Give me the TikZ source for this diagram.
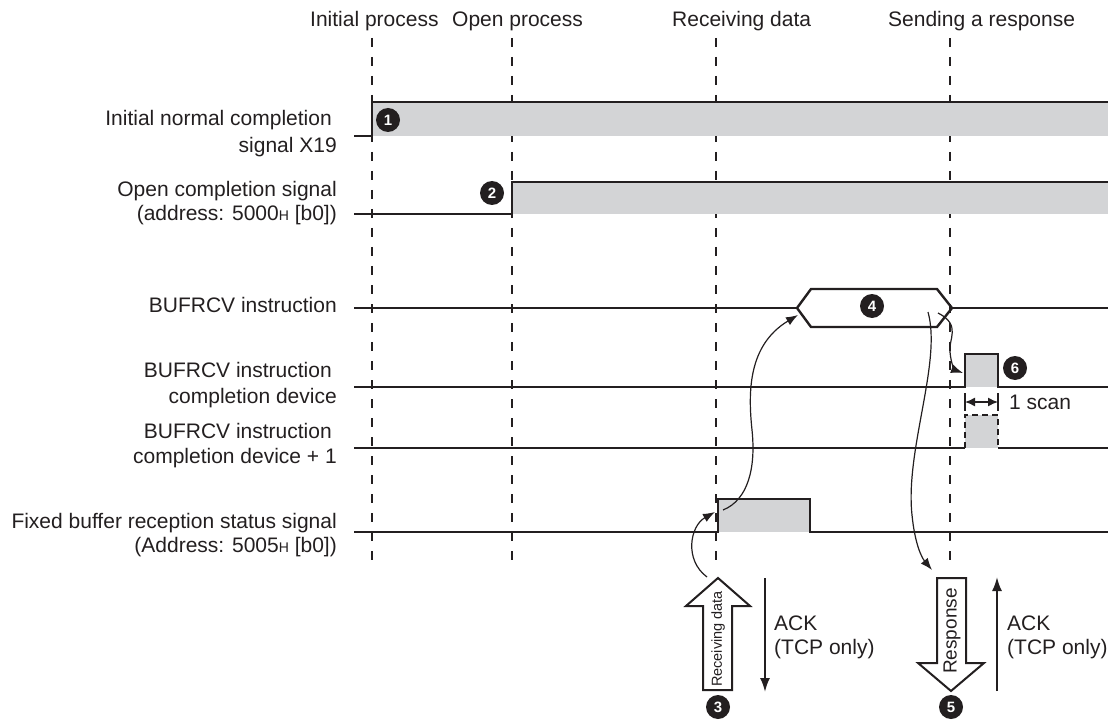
\documentclass[tikz,border=0pt]{standalone}
\usepackage{fontspec}
\setmainfont{Liberation Sans}
\usetikzlibrary{arrows.meta}
\definecolor{ink}{RGB}{35,31,32}
\definecolor{pulsefill}{RGB}{211,212,214}
\newcommand{\smallH}{{\fontsize{14}{14}\selectfont H}}
\begin{document}
\begin{tikzpicture}[x=1pt,y=-1pt,
  sigline/.style={line width=2.4pt, draw=ink, line join=miter},
  guide/.style={line width=1.1pt, draw=ink, dash pattern=on 9pt off 10pt},
  num/.style={circle, fill=ink, text=white, font=\fontsize{15}{15}\selectfont\bfseries, inner sep=0pt, minimum size=24pt},
  lbl/.style={font=\fontsize{21}{21}\selectfont, text=ink, inner sep=0pt},
  curvearrow/.style={line width=1.2pt, draw=ink, -{Latex[length=12pt,width=9pt]}},
  ackarrow/.style={line width=2pt, draw=ink, -{Latex[length=14pt,width=10pt]}},
  bigarrow/.style={line width=2pt, draw=ink, fill=white, line join=miter}]
\useasboundingbox (0,0) rectangle (1114,722);

% guide lines
\foreach \gx in {372,512,716,950}{\draw[guide] (\gx,38) -- (\gx,570);}

% top labels
\node[lbl, anchor=base west] (tInit) at (310,27) {Initial process};
\node[lbl, anchor=base west] (tOpen) at (452,27) {Open process};
\node[lbl, anchor=base west] (tRecv) at (672,27) {Receiving data};
\node[lbl, anchor=base west] (tSend) at (888,27) {Sending a response};

% left labels
\node[lbl, anchor=base east] (l1a) at (332,126) {Initial normal completion};
\node[lbl, anchor=base east] (l1b) at (337,153) {signal X19};
\node[lbl, anchor=base east] (l2a) at (337,197) {Open completion signal};
\node[lbl, anchor=base east] (l2b) at (337,221) {(address: 5000\smallH\ [b0])};
\node[lbl, anchor=base east] (l3) at (337,312) {BUFRCV instruction};
\node[lbl, anchor=base east] (l4a) at (332,377) {BUFRCV instruction};
\node[lbl, anchor=base east] (l4b) at (337,403) {completion device};
\node[lbl, anchor=base east] (l5a) at (332,438) {BUFRCV instruction};
\node[lbl, anchor=base east] (l5b) at (337,463) {completion device + 1};
\node[lbl, anchor=base east] (l6a) at (337,528) {Fixed buffer reception status signal};
\node[lbl, anchor=base east] (l6b) at (337,552) {(Address: 5005\smallH\ [b0])};

% signal 1
\fill[pulsefill] (372,102) rectangle (1108,136);
\draw[sigline] (354,136) -- (372,136) -- (372,102) -- (1108,102);
% signal 2
\fill[pulsefill] (512,182) rectangle (1108,214);
\draw[sigline] (354,214) -- (512,214) -- (512,182) -- (1108,182);
% signal 3 (instruction)
\draw[sigline] (354,308) -- (797,308);
\draw[sigline] (797,308) -- (811,289) -- (937,289) -- (952,308) -- (937,327) -- (811,327) -- cycle;
\draw[sigline] (952,308) -- (1108,308);
% signal 4
\fill[pulsefill] (965,354) rectangle (998,387);
\draw[sigline] (354,387) -- (965,387) -- (965,354) -- (998,354) -- (998,387) -- (1108,387);
% signal 5
\fill[pulsefill] (965,415) rectangle (998,448);
\draw[sigline] (354,448) -- (965,448);
\draw[sigline] (998,448) -- (1108,448);
\draw[sigline, dash pattern=on 6pt off 4pt] (965,448) -- (965,415) -- (998,415) -- (998,448);
% signal 6
\fill[pulsefill] (718,499) rectangle (810,532);
\draw[sigline] (354,532) -- (718,532) -- (718,499) -- (810,499) -- (810,532) -- (1108,532);

% 1 scan
\coordinate (scanL) at (965,402);
\coordinate (scanR) at (998,402);
\draw[line width=1.8pt, draw=ink] (965,393) -- (965,411) (998,393) -- (998,411);
\draw[line width=1.4pt, draw=ink, {Latex[length=10pt,width=9pt]}-{Latex[length=10pt,width=9pt]}] (scanL) -- (scanR);
\node[lbl, anchor=base west] (scan) at (1009,409) {1 scan};

% numbered markers
\node[num] (n1) at (388,120) {1};
\node[num] (n2) at (492,193) {2};
\node[num] (n3) at (718,707) {3};
\node[num] (n4) at (872,306) {4};
\node[num] (n5) at (951,707) {5};
\node[num] (n6) at (1015,368) {6};

% big arrows
\draw[bigarrow] (718,578) -- (750,606) -- (732,606) -- (732,690) -- (703,690) -- (703,606) -- (686,606) -- cycle;
\node[font=\fontsize{14.5}{14.5}\selectfont, text=ink, rotate=90, inner sep=0pt] (recvtxt) at (718,639) {Receiving data};
\draw[bigarrow] (937,578) -- (966,578) -- (966,663) -- (984,663) -- (951,691) -- (918,663) -- (937,663) -- cycle;
\node[font=\fontsize{19}{19}\selectfont, text=ink, rotate=90, inner sep=0pt] (resptxt) at (952,631) {Response};

% ACK arrows
\coordinate (ack1top) at (765,578);
\coordinate (ack1bot) at (765,692);
\draw[ackarrow] (ack1top) -- (ack1bot);
\node[lbl, anchor=base west] (ack1a) at (774,630) {ACK};
\node[lbl, anchor=base west] (ack1b) at (774,654) {(TCP only)};
\coordinate (ack2bot) at (997,691);
\coordinate (ack2top) at (997,577);
\draw[ackarrow] (ack2bot) -- (ack2top);
\node[lbl, anchor=base west] (ack2a) at (1007,630) {ACK};
\node[lbl, anchor=base west] (ack2b) at (1007,654) {(TCP only)};

% curved connectors
\coordinate (cA1) at (707,577);
\coordinate (cA2) at (715,512);
\draw[curvearrow] (cA1) .. controls (684,560) and (690,526) .. (cA2);
\coordinate (cB1) at (723,510);
\coordinate (cB2) at (752,430);
\coordinate (cB3) at (798,315);
\draw[line width=1.2pt, draw=ink] (cB1) .. controls (748,500) and (756,468) .. (cB2);
\draw[curvearrow] (cB2) .. controls (748,392) and (748,345) .. (cB3);
\coordinate (cC1) at (928,312);
\coordinate (cC2) at (912,515);
\coordinate (cC3) at (932,570);
\draw[line width=1.2pt, draw=ink] (cC1) .. controls (942,362) and (905,450) .. (cC2);
\draw[curvearrow] (cC2) .. controls (915,545) and (922,558) .. (cC3);
\coordinate (cD1) at (938,313);
\coordinate (cD2) at (950,352);
\coordinate (cD3) at (963,373);
\draw[line width=1.2pt, draw=ink] (cD1) .. controls (962,325) and (948,340) .. (cD2);
\draw[curvearrow] (cD2) .. controls (951,364) and (955,370) .. (cD3);
\end{tikzpicture}
\end{document}
